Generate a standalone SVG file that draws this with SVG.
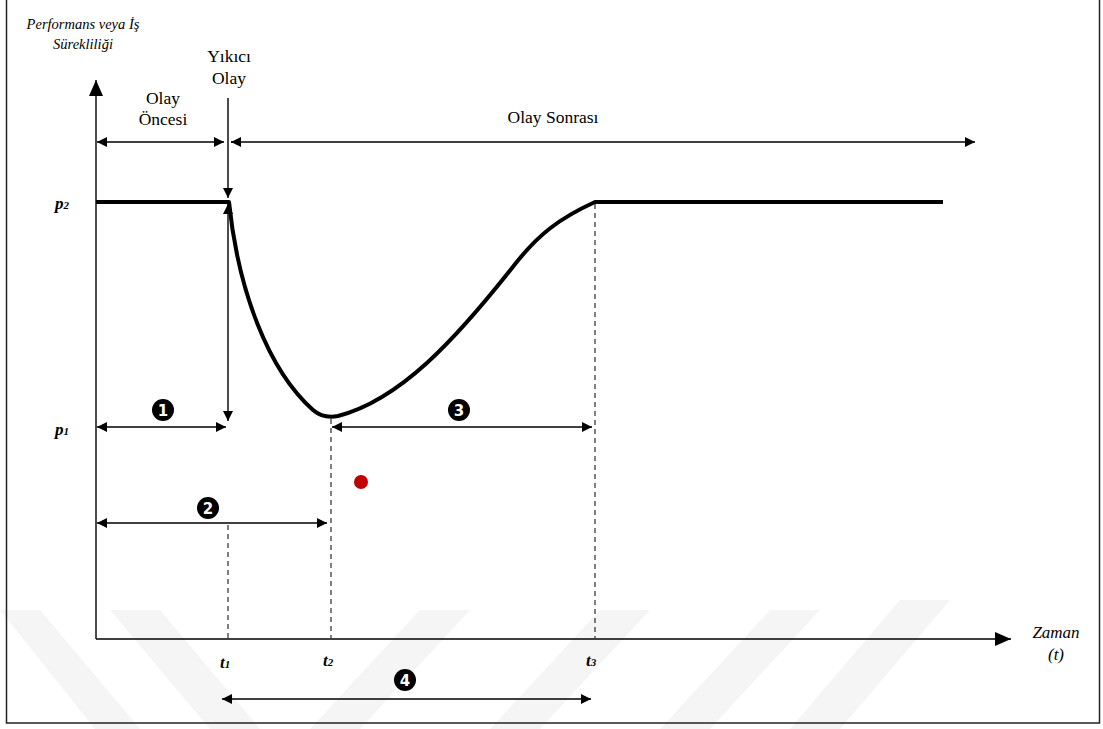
<svg xmlns="http://www.w3.org/2000/svg" width="1103" height="729" viewBox="0 0 1103 729">
<defs>
<marker id="ah" viewBox="0 0 10 10" refX="10" refY="5" markerWidth="10" markerHeight="10" markerUnits="userSpaceOnUse" orient="auto-start-reverse">
<path d="M0,0 L10,5 L0,10 z" fill="#000"/>
</marker>
<marker id="big" viewBox="0 0 16 14" refX="16" refY="7" markerWidth="16" markerHeight="14" markerUnits="userSpaceOnUse" orient="auto">
<path d="M0,0 L16,7 L0,14 z" fill="#000"/>
</marker>
<style>
.t{font-family:"Liberation Serif","Times New Roman",serif;fill:#000}
.it{font-style:italic}
.bi{font-style:italic;font-weight:bold}
.ar{stroke:#000;stroke-width:1.4;fill:none;marker-start:url(#ah);marker-end:url(#ah)}
.ar1{stroke:#000;stroke-width:1.4;fill:none;marker-end:url(#ah)}
.ds{stroke:#000;stroke-width:1;stroke-dasharray:5,4;fill:none}
.wm{fill:#f5f5f5}
.badge{fill:#000}
.bn{font-family:"DejaVu Sans",sans-serif;font-weight:bold;font-size:15px;fill:#fff;text-anchor:middle}
</style>
</defs>
<g id="watermark">
<polygon class="wm" points="0,610 40,610 140,729 95,729"/>
<polygon class="wm" points="110,610 160,610 260,729 210,729"/>
<polygon class="wm" points="420,610 470,610 360,729 310,729"/>
<polygon class="wm" points="600,610 650,610 540,729 490,729"/>
<polygon class="wm" points="770,610 820,610 710,729 660,729"/>
<polygon class="wm" points="900,600 950,600 840,729 790,729"/>
</g>
<rect x="6.5" y="-5" width="1093" height="728" fill="none" stroke="#222" stroke-width="1.5"/>
<g id="axes">
<line x1="96" y1="639" x2="96" y2="80" stroke="#000" stroke-width="1.4" marker-end="url(#big)"/>
<line x1="96" y1="639" x2="1011" y2="639" stroke="#000" stroke-width="1.6" marker-end="url(#big)"/>
</g>
<g id="curve">
<path d="M96,202 L229,202 C238,290 268,370 313,410 C320,416 328,418 338,416 C400,400 455,340 512,268 C538,234 560,218 595,202 L943,202" fill="none" stroke="#000" stroke-width="4" stroke-linejoin="round"/>
</g>
<g id="connectors">
<line class="ar1" x1="228" y1="98" x2="228" y2="198"/>
<line class="ar" x1="228" y1="204" x2="228" y2="421"/>
<line class="ar" x1="97" y1="142" x2="224" y2="142"/>
<line class="ar1" x1="231" y1="142" x2="975" y2="142"/>
<line class="ar1" x1="240" y1="142" x2="231" y2="142"/>
<line class="ar" x1="97" y1="427" x2="226" y2="427"/>
<line class="ar" x1="332" y1="427" x2="592" y2="427"/>
<line class="ar" x1="97" y1="523" x2="327" y2="523"/>
<line class="ar" x1="222" y1="699" x2="591" y2="699"/>
<line class="ds" x1="228" y1="525" x2="228" y2="638"/>
<line class="ds" x1="331" y1="419" x2="331" y2="638"/>
<line class="ds" x1="595" y1="204" x2="595" y2="638"/>
</g>
<g id="red-dot"><circle cx="361" cy="482" r="7" fill="#c00000"/></g>
<g id="labels">
<text class="t it" x="83" y="29" font-size="14.5" text-anchor="middle">Performans veya İş</text>
<text class="t it" x="83" y="49" font-size="14.5" text-anchor="middle">Sürekliliği</text>
<text class="t" x="229" y="62" font-size="17.5" text-anchor="middle">Yıkıcı</text>
<text class="t" x="229" y="84" font-size="17.5" text-anchor="middle">Olay</text>
<text class="t" x="163" y="104" font-size="17.5" text-anchor="middle">Olay</text>
<text class="t" x="163" y="125" font-size="17.5" text-anchor="middle">Öncesi</text>
<text class="t" x="553" y="123" font-size="17.5" text-anchor="middle">Olay Sonrası</text>
<text class="t bi" x="55" y="209" font-size="17">p<tspan font-size="11">2</tspan></text>
<text class="t bi" x="55" y="435" font-size="17">p<tspan font-size="11">1</tspan></text>
<text class="t bi" x="220" y="668" font-size="17">t<tspan font-size="11">1</tspan></text>
<text class="t bi" x="323" y="666" font-size="17">t<tspan font-size="11">2</tspan></text>
<text class="t bi" x="586" y="666" font-size="17">t<tspan font-size="11">3</tspan></text>
<text class="t it" x="1056" y="638" font-size="17" text-anchor="middle">Zaman</text>
<text class="t it" x="1056" y="660" font-size="17" text-anchor="middle">(t)</text>
</g>
<g id="badge-1"><circle class="badge" cx="163" cy="410" r="11"/><text class="bn" x="163" y="415.5">1</text></g>
<g id="badge-2"><circle class="badge" cx="208" cy="508" r="11"/><text class="bn" x="208" y="513.5">2</text></g>
<g id="badge-3"><circle class="badge" cx="459" cy="410" r="11"/><text class="bn" x="459" y="415.5">3</text></g>
<g id="badge-4"><circle class="badge" cx="405" cy="680" r="11"/><text class="bn" x="405" y="685.5">4</text></g>
</svg>
